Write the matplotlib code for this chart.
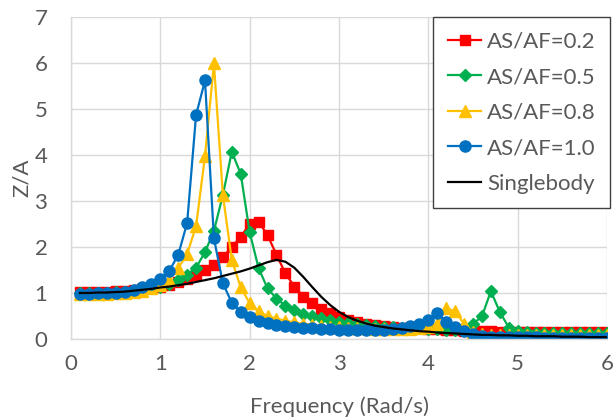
import matplotlib.pyplot as plt

# frequency (rad/s), 0.1 .. 6.0
freq = [0.1, 0.2, 0.3, 0.4, 0.5, 0.6, 0.7, 0.8, 0.9, 1.0,
        1.1, 1.2, 1.3, 1.4, 1.5, 1.6, 1.7, 1.8, 1.9, 2.0,
        2.1, 2.2, 2.3, 2.4, 2.5, 2.6, 2.7, 2.8, 2.9, 3.0,
        3.1, 3.2, 3.3, 3.4, 3.5, 3.6, 3.7, 3.8, 3.9, 4.0,
        4.1, 4.2, 4.3, 4.4, 4.5, 4.6, 4.7, 4.8, 4.9, 5.0,
        5.1, 5.2, 5.3, 5.4, 5.5, 5.6, 5.7, 5.8, 5.9, 6.0]

# Z/A values
ratio_02 = [1.02, 1.02, 1.03, 1.03, 1.04, 1.05, 1.06, 1.08, 1.10, 1.13,
            1.17, 1.23, 1.31, 1.39, 1.50, 1.60, 1.78, 2.00, 2.22, 2.50,
            2.55, 2.26, 1.83, 1.43, 1.14, 0.92, 0.78, 0.65, 0.56, 0.48,
            0.42, 0.37, 0.33, 0.30, 0.28, 0.26, 0.25, 0.24, 0.23, 0.22,
            0.21, 0.20, 0.19, 0.18, 0.18, 0.17, 0.17, 0.16, 0.16, 0.16,
            0.16, 0.15, 0.15, 0.15, 0.15, 0.15, 0.15, 0.15, 0.15, 0.16]

ratio_05 = [1.00, 1.00, 1.01, 1.01, 1.02, 1.03, 1.05, 1.07, 1.10, 1.14,
            1.20, 1.28, 1.40, 1.55, 1.89, 2.35, 3.13, 4.07, 3.59, 2.32,
            1.54, 1.10, 0.88, 0.72, 0.62, 0.55, 0.49, 0.45, 0.41, 0.38,
            0.35, 0.33, 0.31, 0.29, 0.27, 0.26, 0.25, 0.24, 0.23, 0.22,
            0.21, 0.20, 0.20, 0.22, 0.33, 0.49, 1.04, 0.59, 0.25, 0.18,
            0.15, 0.14, 0.13, 0.13, 0.12, 0.12, 0.12, 0.12, 0.12, 0.12]

ratio_08 = [0.97, 0.97, 0.98, 0.98, 0.99, 1.00, 1.02, 1.05, 1.10, 1.17,
            1.29, 1.54, 1.85, 2.45, 3.98, 5.99, 3.13, 1.72, 1.12, 0.78,
            0.60, 0.50, 0.44, 0.40, 0.36, 0.33, 0.31, 0.29, 0.27, 0.26,
            0.25, 0.24, 0.23, 0.22, 0.22, 0.21, 0.21, 0.22, 0.23, 0.26,
            0.33, 0.67, 0.60, 0.33, 0.15, 0.10, 0.09, 0.08, 0.08, 0.08,
            0.08, 0.08, 0.08, 0.08, 0.08, 0.08, 0.08, 0.08, 0.08, 0.08]

ratio_10 = [0.98, 0.98, 0.99, 1.00, 1.01, 1.03, 1.06, 1.12, 1.20, 1.31,
            1.48, 1.83, 2.52, 4.87, 5.62, 2.19, 1.21, 0.79, 0.59, 0.47,
            0.39, 0.34, 0.30, 0.28, 0.26, 0.24, 0.23, 0.22, 0.21, 0.20,
            0.20, 0.19, 0.19, 0.19, 0.19, 0.21, 0.24, 0.28, 0.33, 0.41,
            0.56, 0.38, 0.27, 0.18, 0.10, 0.06, 0.04, 0.04, 0.04, 0.04,
            0.04, 0.04, 0.03, 0.03, 0.03, 0.03, 0.03, 0.03, 0.03, 0.03]

single = [1.00, 1.00, 1.01, 1.01, 1.02, 1.03, 1.05, 1.07, 1.09, 1.12,
          1.14, 1.17, 1.20, 1.24, 1.28, 1.32, 1.37, 1.42, 1.47, 1.53,
          1.60, 1.67, 1.72, 1.68, 1.55, 1.35, 1.13, 0.92, 0.74, 0.59,
          0.48, 0.40, 0.34, 0.29, 0.26, 0.23, 0.21, 0.19, 0.17, 0.16,
          0.14, 0.13, 0.12, 0.11, 0.10, 0.09, 0.09, 0.08, 0.08, 0.07,
          0.07, 0.06, 0.06, 0.06, 0.05, 0.05, 0.05, 0.04, 0.04, 0.04]

plt.rcParams['font.family'] = ['Lato', 'DejaVu Sans']
txt = '#595959'
grid = '#d9d9d9'
fs = 16

fig = plt.figure(figsize=(6.15, 4.19), dpi=100)
ax = fig.add_axes([71/615, 1 - 339/419, 536/615, 322/419])

ax.plot(freq, ratio_02, color='#ff0000', marker='s', ms=7, lw=1.6, label='AS/AF=0.2')
ax.plot(freq, ratio_05, color='#00b050', marker='D', ms=6, lw=1.6, label='AS/AF=0.5')
ax.plot(freq, ratio_08, color='#ffc000', marker='^', ms=8, lw=1.6, label='AS/AF=0.8')
ax.plot(freq, ratio_10, color='#0070c0', marker='o', ms=8, lw=1.6, label='AS/AF=1.0')
ax.plot(freq, single, color='black', lw=1.6, label='Singlebody')

ax.set_xlim(0, 6)
ax.set_ylim(0, 7)
ax.set_xticks(range(0, 7))
ax.set_yticks(range(0, 8))
ax.grid(True, color=grid, lw=1)
ax.set_axisbelow(True)
for s in ['top', 'right']:
    ax.spines[s].set_visible(False)
for s in ['left', 'bottom']:
    ax.spines[s].set_color(grid)
    ax.spines[s].set_linewidth(1)
ax.tick_params(length=0, labelsize=fs, labelcolor=txt)
ax.tick_params(axis='x', pad=11)
ax.tick_params(axis='y', pad=17)

ax.set_xlabel('Frequency (Rad/s)', fontsize=fs, color=txt, labelpad=16)
ax.set_ylabel('Z/A', fontsize=fs, color=txt, labelpad=2)

leg = ax.legend(loc='upper right', bbox_to_anchor=(610/615, 1 - 17/419),
                bbox_transform=fig.transFigure, fontsize=fs, frameon=True,
                fancybox=False, framealpha=1, edgecolor='#404040',
                handlelength=1.5, handletextpad=0.25, labelspacing=0.7,
                borderpad=0.65, borderaxespad=0)
leg.get_frame().set_linewidth(1)
for t in leg.get_texts():
    t.set_color(txt)

fig.savefig('out.png', dpi=100)
